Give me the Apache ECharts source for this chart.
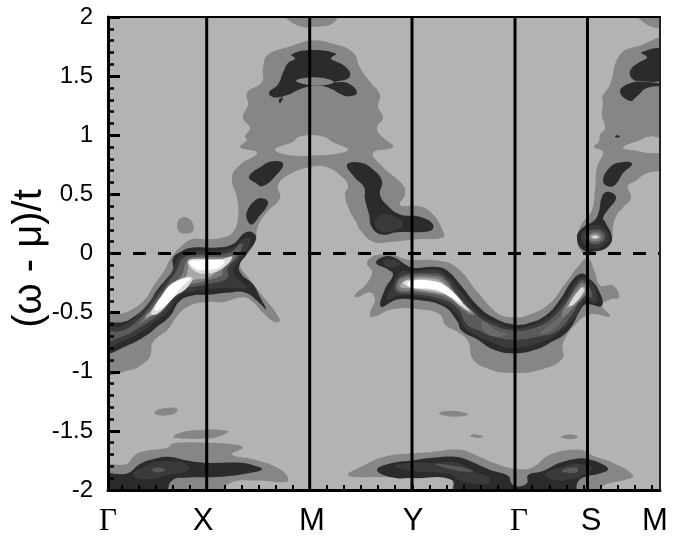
<!DOCTYPE html>
<html><head><meta charset="utf-8">
<style>html,body{margin:0;padding:0;background:#fff}#c{width:679px;height:537px}</style>
<script src="https://cdn.jsdelivr.net/npm/echarts@6/dist/echarts.min.js"></script>
</head><body><div id="c"></div>
<script>
// k = position along the k-path, w = (omega - mu)/t. Each contour is a list of [k, w].
const kEnd = 552;
const pathMarks = [98.7, 201.7, 304, 407, 479.5];
const kTicks = [14,31,48,65,82,99,117,134,151,168,185,202,219,236,253,270,287,305,322,339,356,373,390,407,424,442,459,476,493,510,527,544];
const kLabelAt = [0, 95, 204, 305, 411, 483, 547];
const kLabels = ['Γ','X','M','Y','Γ','S','M'];

// lightest contour level
const outerMain = [[-6,-0.52],[12,-0.51],[25,-0.47],[37,-0.39],[45,-0.28],[57,-0.135],[62,-0.05],[72,0.05],[84,0.12],[99,0.12],[115,0.135],[125,0.18],[130,0.31],[129,0.47],[124,0.64],[132,0.75],[149,0.85],[132,0.90],[139,0.96],[137,0.99],[142,1.06],[135,1.15],[140,1.26],[139,1.36],[154,1.45],[155,1.57],[160,1.68],[182,1.75],[202,1.80],[222,1.78],[245,1.70],[252,1.57],[262,1.45],[272,1.34],[270,1.24],[275,1.15],[269,1.06],[275,0.98],[285,0.90],[265,0.85],[275,0.73],[295,0.58],[297,0.50],[292,0.41],[312,0.40],[325,0.33],[335,0.19],[335,0.135],[309,0.12],[285,0.10],[265,0.10],[252,0.20],[248,0.27],[242,0.355],[237,0.50],[240,0.57],[235,0.64],[219,0.73],[202,0.73],[184,0.68],[170,0.58],[172,0.47],[159,0.35],[150,0.23],[147,0.10],[139,-0.01],[132,-0.09],[139,-0.19],[152,-0.33],[172,-0.56],[167,-0.58],[155,-0.50],[145,-0.41],[135,-0.37],[115,-0.41],[99,-0.41],[82,-0.44],[69,-0.53],[60,-0.64],[45,-0.75],[42,-0.87],[32,-0.95],[25,-0.98],[-6,-1.00]];
const outerBandB = [[259,-0.09],[262,-0.04],[270,-0.01],[285,-0.01],[299,-0.05],[329,-0.06],[349,-0.12],[369,-0.32],[389,-0.50],[405,-0.54],[422,-0.515],[442,-0.42],[455,-0.28],[472,-0.09],[480,-0.04],[487,-0.16],[492,-0.27],[505,-0.27],[511,-0.37],[502,-0.39],[494,-0.44],[502,-0.53],[482,-0.515],[469,-0.585],[455,-0.755],[454,-0.895],[429,-0.99],[405,-1.01],[382,-0.98],[365,-0.895],[360,-0.74],[349,-0.66],[337,-0.60],[332,-0.515],[309,-0.47],[285,-0.47],[264,-0.54],[262,-0.50],[267,-0.39],[262,-0.33],[249,-0.37],[247,-0.35],[259,-0.25],[264,-0.15]];
const outerRightArch = [[480,-0.02],[473,0.02],[469,0.12],[472,0.22],[477,0.29],[484,0.37],[487,0.54],[489,0.73],[495,0.86],[486,0.90],[491,0.95],[492,1.005],[497,1.06],[494,1.17],[495,1.28],[494,1.32],[502,1.43],[512,1.68],[532,1.76],[558,1.80],[558,0.99],[542,0.99],[532,0.96],[515,0.895],[527,0.87],[539,0.85],[558,0.83],[558,0.72],[539,0.68],[527,0.61],[520,0.57],[523,0.47],[515,0.39],[509,0.33],[505,0.23],[504,0.12],[499,0.05],[486,0.02]];
const outerBottomLeft = [[-6,-1.81],[19,-1.78],[24,-1.73],[32,-1.68],[60,-1.64],[65,-1.605],[99,-1.60],[122,-1.61],[135,-1.64],[124,-1.70],[145,-1.74],[169,-1.81],[179,-1.88],[179,-1.93],[149,-1.92],[122,-1.94],[110,-2.05],[-6,-2.05]];
const outerBottomRight = [[240,-1.875],[259,-1.78],[272,-1.73],[289,-1.70],[322,-1.68],[352,-1.66],[369,-1.71],[389,-1.78],[407,-1.82],[424,-1.81],[442,-1.70],[472,-1.66],[485,-1.71],[505,-1.77],[525,-1.875],[519,-1.91],[494,-1.97],[492,-2.05],[347,-2.05],[342,-1.91],[272,-1.89]];
const outerSpots = [
 [[69,0.24],[73,0.30],[80,0.30],[85,0.25],[85,0.19],[79,0.17],[72,0.18]],
 [[175,2.05],[230,2.05],[225,1.95],[209,1.92],[189,1.93]],
 [[528,2.05],[558,2.05],[558,1.92],[540,1.93]],
 [[47,-1.36],[50,-1.32],[69,-1.31],[65,-1.36]],
 [[65,-1.55],[80,-1.50],[120,-1.50],[110,-1.55],[99,-1.565],[75,-1.565]],
 [[331,-1.35],[345,-1.33],[360,-1.36],[345,-1.38]],
 [[362,-1.54],[369,-1.53],[375,-1.55],[369,-1.56]],
 [[453,-1.55],[462,-1.53],[470,-1.55],[462,-1.57]]
];
const archHole = [[167,0.88],[184,0.94],[192,0.99],[215,0.99],[225,0.94],[240,0.88],[232,0.85],[209,0.83],[182,0.83]];

// dark level
const darkArch = [[183,1.68],[202,1.72],[228,1.69],[223,1.65],[234,1.60],[242,1.53],[240,1.48],[227,1.45],[240,1.44],[249,1.36],[240,1.33],[232,1.35],[224,1.39],[209,1.42],[192,1.39],[179,1.34],[167,1.32],[161,1.36],[170,1.43],[175,1.53],[180,1.61],[187,1.65]];
const archLens = [[188,1.46],[207,1.49],[226,1.45],[207,1.42]];
const darkPieces = [
 [[172,1.27],[175,1.32],[171,1.30]],
 [[141,0.65],[154,0.74],[165,0.78],[175,0.76],[169,0.67],[155,0.57],[147,0.60]],
 [[139,0.355],[149,0.46],[157,0.46],[160,0.42],[150,0.30],[144,0.245],[140,0.27]],
 [[239,0.75],[252,0.77],[265,0.71],[274,0.61],[272,0.50],[279,0.41],[292,0.33],[312,0.31],[325,0.245],[322,0.19],[289,0.18],[274,0.16],[264,0.22],[261,0.33],[257,0.46],[256,0.56],[247,0.64]],
 [[533,1.70],[558,1.72],[558,1.49],[529,1.46],[522,1.51],[524,1.57],[532,1.62],[539,1.66]],
 [[512,1.37],[522,1.44],[539,1.45],[558,1.42],[539,1.40],[529,1.33],[522,1.29]],
 [[507,0.99],[509,1.0],[512,0.99],[509,0.98]],
 [[495,0.625],[502,0.73],[512,0.77],[524,0.76],[515,0.68],[507,0.58],[499,0.57]],
 [[469,0.14],[475,0.22],[485,0.27],[490,0.33],[495,0.50],[502,0.52],[508,0.47],[500,0.37],[495,0.30],[497,0.27],[504,0.135],[500,0.06],[489,0.02],[475,0.03]]
];
const darkBandA = [[-6,-0.60],[15,-0.58],[25,-0.54],[39,-0.44],[49,-0.31],[59,-0.21],[65,-0.14],[65,-0.04],[74,0.02],[85,0.05],[109,0.05],[125,0.08],[137,0.175],[145,0.175],[148,0.12],[139,0],[131,-0.11],[134,-0.18],[145,-0.26],[152,-0.37],[158,-0.47],[149,-0.40],[137,-0.33],[122,-0.33],[99,-0.35],[85,-0.355],[72,-0.40],[62,-0.53],[49,-0.62],[39,-0.69],[19,-0.78],[-6,-0.84]];
const darkBandB = [[268,-0.08],[275,-0.03],[285,-0.03],[297,-0.09],[305,-0.12],[329,-0.115],[340,-0.15],[352,-0.26],[370,-0.445],[385,-0.54],[405,-0.60],[422,-0.585],[439,-0.515],[452,-0.39],[465,-0.22],[474,-0.17],[480,-0.20],[490,-0.30],[494,-0.44],[480,-0.43],[475,-0.445],[460,-0.655],[442,-0.755],[429,-0.81],[405,-0.845],[385,-0.81],[369,-0.725],[354,-0.655],[349,-0.57],[335,-0.445],[305,-0.39],[289,-0.39],[273,-0.45],[277,-0.30],[285,-0.18],[280,-0.135]];
const darkBottomLeft = [[-6,-1.875],[19,-1.86],[32,-1.78],[45,-1.74],[62,-1.72],[79,-1.75],[99,-1.77],[132,-1.77],[145,-1.79],[154,-1.825],[139,-1.86],[109,-1.89],[79,-1.895],[64,-1.92],[55,-2.05],[-6,-2.05]];
const darkBottomRight = [[269,-1.83],[285,-1.77],[305,-1.75],[322,-1.73],[349,-1.72],[362,-1.755],[382,-1.83],[400,-1.88],[404,-1.95],[410,-1.97],[419,-1.94],[420,-1.875],[435,-1.84],[452,-1.77],[469,-1.735],[480,-1.74],[494,-1.78],[500,-1.825],[492,-1.86],[475,-1.895],[469,-1.95],[467,-2.05],[347,-2.05],[344,-1.915],[305,-1.90],[285,-1.895]];

// inner levels, dark to bright
const level3 = [
 [[-6,-0.63],[15,-0.61],[32,-0.50],[47,-0.35],[57,-0.25],[65,-0.135],[72,-0.02],[85,0.02],[109,0.02],[125,0.05],[135,0.12],[142,0.13],[139,0.03],[129,-0.08],[125,-0.16],[132,-0.23],[139,-0.29],[122,-0.29],[99,-0.30],[85,-0.32],[72,-0.35],[60,-0.49],[45,-0.59],[32,-0.67],[15,-0.74],[-6,-0.80]],
 [[284,-0.28],[292,-0.16],[305,-0.15],[327,-0.14],[339,-0.19],[352,-0.32],[372,-0.515],[389,-0.585],[405,-0.63],[422,-0.61],[440,-0.54],[455,-0.40],[469,-0.23],[475,-0.20],[482,-0.23],[489,-0.36],[487,-0.42],[477,-0.40],[469,-0.515],[455,-0.64],[439,-0.73],[405,-0.80],[385,-0.755],[370,-0.70],[357,-0.63],[349,-0.515],[335,-0.42],[305,-0.36],[289,-0.36],[279,-0.39]],
 [[275,-0.07],[285,-0.05],[292,-0.09],[282,-0.12]],
 [[267,0.27],[275,0.33],[289,0.30],[295,0.245],[285,0.19],[272,0.19]],
 [[25,-1.87],[35,-1.81],[52,-1.76],[79,-1.78],[79,-1.84],[59,-1.875],[39,-1.91]],
 [[287,-1.80],[305,-1.77],[325,-1.77],[349,-1.77],[365,-1.84],[382,-1.90],[379,-1.95],[352,-1.92],[344,-1.87],[305,-1.84]],
 [[437,-1.87],[452,-1.81],[469,-1.78],[485,-1.81],[479,-1.86],[462,-1.91],[449,-1.92]],
 [[473,0.14],[478,0.21],[487,0.24],[496,0.21],[501,0.135],[496,0.07],[487,0.04],[478,0.07]]
];
const level4 = [
 [[-6,-0.67],[15,-0.65],[34,-0.53],[49,-0.37],[60,-0.25],[69,-0.135],[75,-0.04],[87,-0.01],[109,-0.01],[124,0.02],[132,0.08],[135,0.08],[129,-0.04],[120,-0.12],[119,-0.21],[99,-0.26],[87,-0.28],[72,-0.30],[57,-0.47],[44,-0.56],[29,-0.64],[15,-0.70],[-6,-0.75]],
 [[287,-0.28],[294,-0.19],[327,-0.17],[337,-0.205],[350,-0.35],[370,-0.53],[387,-0.61],[405,-0.65],[422,-0.64],[442,-0.56],[459,-0.40],[470,-0.25],[475,-0.225],[481,-0.28],[484,-0.37],[475,-0.37],[464,-0.515],[449,-0.655],[432,-0.70],[405,-0.73],[385,-0.70],[372,-0.655],[359,-0.60],[350,-0.47],[335,-0.39],[305,-0.34],[290,-0.33]],
 [[44,-1.83],[50,-1.81],[57,-1.83],[50,-1.85]],
 [[327,-1.78],[349,-1.80],[365,-1.84],[352,-1.84]],
 [[454,-1.83],[469,-1.81],[469,-1.85],[455,-1.85]],
 [[477,0.14],[481,0.19],[487,0.20],[494,0.19],[497,0.135],[493,0.09],[487,0.08],[481,0.09]]
];
const levelPatch = [
 [[442,-0.60],[455,-0.515],[459,-0.49],[452,-0.585],[442,-0.66],[432,-0.68]],
 [[375,-0.57],[389,-0.655],[399,-0.68],[385,-0.70],[374,-0.63]]
];
const level5 = [
 [[19,-0.67],[35,-0.56],[50,-0.40],[62,-0.28],[74,-0.18],[79,-0.06],[89,-0.03],[110,-0.03],[124,-0.02],[130,0.03],[124,-0.06],[115,-0.135],[114,-0.18],[99,-0.23],[89,-0.25],[74,-0.28],[57,-0.44],[42,-0.54],[25,-0.63]],
 [[289,-0.27],[295,-0.205],[327,-0.19],[337,-0.23],[352,-0.39],[367,-0.515],[359,-0.50],[347,-0.42],[334,-0.36],[305,-0.32],[292,-0.31]],
 [[454,-0.50],[469,-0.29],[475,-0.25],[479,-0.29],[477,-0.35],[465,-0.46],[455,-0.54]],
 [[480,0.14],[483,0.17],[487,0.18],[492,0.17],[494,0.14],[492,0.11],[487,0.10],[482,0.11]]
];
const level6 = [
 [[37,-0.54],[50,-0.43],[64,-0.30],[77,-0.21],[82,-0.08],[90,-0.05],[110,-0.05],[122,-0.04],[115,-0.11],[109,-0.15],[99,-0.21],[89,-0.22],[75,-0.26],[57,-0.43],[44,-0.52]],
 [[292,-0.27],[299,-0.22],[325,-0.21],[337,-0.26],[354,-0.42],[364,-0.50],[357,-0.47],[345,-0.37],[332,-0.34],[305,-0.30],[294,-0.29]],
 [[459,-0.46],[470,-0.32],[475,-0.28],[477,-0.32],[465,-0.43]],
 [[482,0.14],[487,0.16],[492,0.14],[487,0.12]]
];
const level7 = [
 [[43,-0.51],[55,-0.34],[66,-0.24],[84,-0.20],[79,-0.29],[66,-0.37],[51,-0.50]],
 [[80,-0.065],[92,-0.045],[112,-0.05],[124,-0.03],[114,-0.13],[99,-0.17],[87,-0.15]],
 [[295,-0.25],[302,-0.225],[325,-0.23],[339,-0.28],[357,-0.44],[362,-0.49],[352,-0.44],[342,-0.37],[329,-0.32],[305,-0.29]],
 [[461,-0.44],[473,-0.29],[476,-0.31],[466,-0.43]],
 [[484,0.14],[487,0.15],[490,0.14],[487,0.13]]
];
const level8 = [
 [[47,-0.48],[56,-0.33],[66,-0.25],[82,-0.21],[72,-0.30],[60,-0.42]],
 [[82,-0.07],[94,-0.06],[116,-0.06],[112,-0.115],[97,-0.14],[86,-0.12]],
 [[300,-0.24],[325,-0.235],[341,-0.30],[354,-0.42],[339,-0.35],[325,-0.30],[302,-0.285]]
];

const C = {bg:'#b3b3b3', l1:'#868686', l2:'#2b2b2b', l3:'#3a3a3a', l4:'#5a5a5a', patch:'#6a6a6a', l5:'#7c7c7c', l6:'#a8a8a8', l7:'#dcdcdc', l8:'#ffffff'};
const layers = [];
const add = (color, list) => list.forEach(p => layers.push({color, p}));
add(C.l1, [outerMain, outerBandB, outerRightArch, outerBottomLeft, outerBottomRight]);
add(C.l1, outerSpots);
add(C.bg, [archHole]);
add(C.l2, [darkArch]);
add(C.l1, [archLens]);
add(C.l2, darkPieces);
add(C.l2, [darkBandA, darkBandB, darkBottomLeft, darkBottomRight]);
add(C.l3, level3); add(C.l4, level4); add(C.patch, levelPatch); add(C.l5, level5); add(C.l6, level6); add(C.l7, level7); add(C.l8, level8);

const chart = echarts.init(document.getElementById('c'), null, {renderer:'canvas'});
const sans = '"Liberation Sans", Arial, sans-serif';
const vLines = pathMarks.map(k => ({
  type:'line', data:[[k,-2],[k,2]], symbol:'none', silent:true, z:5,
  lineStyle:{color:'#000', width:3}
}));
chart.setOption({
  animation:false,
  backgroundColor:'#fff',
  grid:{left:108, right:19, top:17, bottom:47, show:true, backgroundColor:C.bg, borderWidth:0, outerBoundsMode:'none'},
  xAxis:[{
    type:'value', min:0, max:kEnd, z:10,
    splitLine:{show:false},
    axisLine:{show:true, onZero:false, lineStyle:{color:'#000', width:3}},
    axisTick:{show:true, inside:true, length:5, customValues:kTicks, lineStyle:{color:'#000', width:2}},
    axisLabel:{
      customValues:kLabelAt, margin:16, fontSize:31, color:'#000', fontFamily:sans,
      showMinLabel:true, showMaxLabel:true, hideOverlap:false,
      formatter:v => { const s = kLabels[kLabelAt.indexOf(v)]; return s === 'Γ' ? '{g|Γ}' : s; },
      rich:{g:{fontFamily:'"Liberation Serif", serif', fontSize:31, color:'#000'}}
    }
  },{
    type:'value', position:'top', min:0, max:kEnd, z:10, splitLine:{show:false},
    axisLine:{show:true, onZero:false, lineStyle:{color:'#000', width:2}},
    axisTick:{show:false}, axisLabel:{show:false}
  }],
  yAxis:[{
    type:'value', min:-2, max:2, interval:0.5, z:10,
    name:'(ω - μ)/t', nameLocation:'middle', nameRotate:90, nameGap:58, nameMoveOverlap:false,
    nameTextStyle:{fontSize:40, color:'#000', fontFamily:sans, padding:[0,10,0,0]},
    splitLine:{show:false},
    axisLine:{show:true, onZero:false, lineStyle:{color:'#000', width:3}},
    axisTick:{show:true, inside:true, length:12, lineStyle:{color:'#000', width:3}},
    minorTick:{show:true, splitNumber:5, length:6, lineStyle:{color:'#000', width:2.5}},
    minorSplitLine:{show:false},
    axisLabel:{margin:15, fontSize:24, color:'#000', fontFamily:sans}
  },{
    type:'value', position:'right', min:-2, max:2, interval:0.5, z:10, splitLine:{show:false},
    axisLine:{show:true, onZero:false, lineStyle:{color:'#222', width:2}},
    axisTick:{show:false}, axisLabel:{show:false}
  }],
  series:[{
    type:'custom', clip:true, silent:true, z:2,
    data:layers.map((l,i) => [i,0]),
    encode:{x:0,y:1},
    renderItem:(params, api) => {
      const l = layers[api.value(0)];
      return {type:'polygon', shape:{points:l.p.map(pt => api.coord(pt)), smooth:0.45}, style:{fill:l.color, stroke:null}};
    }
  },
  ...vLines,
  {type:'line', data:[[0,0],[kEnd,0]], symbol:'none', silent:true, z:6,
   lineStyle:{color:'#000', width:3, type:[13,12]}}]
});
</script></body></html>
